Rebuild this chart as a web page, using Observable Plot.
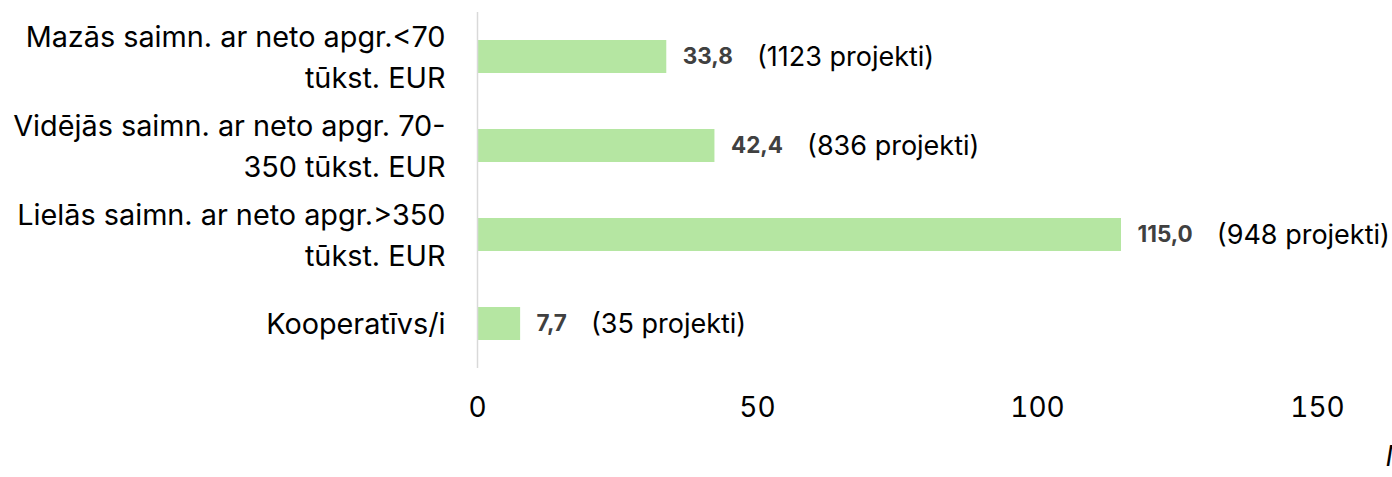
<!DOCTYPE html>
<html><head><meta charset="utf-8">
<script src="https://cdn.jsdelivr.net/npm/d3@7"></script>
<script src="https://cdn.jsdelivr.net/npm/@observablehq/plot@0.6"></script>
<style>body{margin:0;background:#fff;overflow:hidden} svg{font-family:Inter, sans-serif}</style>
</head><body><div id="chart"></div>
<script>
const categories = [
  "Mazās saimn. ar neto apgr.<70 tūkst. EUR",
  "Vidējās saimn. ar neto apgr. 70-350 tūkst. EUR",
  "Lielās saimn. ar neto apgr.>350 tūkst. EUR",
  "Kooperatīvs/i"
];
const tickLabels = [
  "Mazās saimn. ar neto apgr.<70\ntūkst. EUR",
  "Vidējās saimn. ar neto apgr. 70-\n350 tūkst. EUR",
  "Lielās saimn. ar neto apgr.>350\ntūkst. EUR",
  "Kooperatīvs/i"
];
const values = [33.8, 42.4, 115.0, 7.7];
const projects = [1123, 836, 948, 35];
const xTicks = [0, 50, 100, 150];
const axisTitle = "Milj. EUR";

const data = categories.map((c, i) => ({cat: c, value: values[i], projects: projects[i]}));
const fmt = v => d3.format(".1f")(v).replace(".", ",");

const chart = Plot.plot({
  width: 1392, height: 477,
  marginLeft: 477, marginRight: 75, marginTop: 12, marginBottom: 109,
  style: {fontFamily: "Inter, sans-serif", background: "#fff", overflow: "visible"},
  x: {domain: [0, 150]},
  y: {domain: categories, paddingInner: 0.63, paddingOuter: 0.315},
  marks: [
    Plot.barX(data, {x: "value", y: "cat", fill: "#b5e6a2"}),
    Plot.ruleX([0], {stroke: "#d9d9d9", strokeWidth: 1.5}),
    Plot.axisX({ticks: xTicks, tickSize: 0, tickPadding: 29, fontSize: 28, fill: "#000", label: null}),
    Plot.axisY({tickSize: 0, tickPadding: 32, fontSize: 28.8, fill: "#000", label: null, lineHeight: 1.44, dy: -3,
      tickFormat: d => tickLabels[categories.indexOf(d)]}),
    Plot.text(data, {
      x: "value", y: "cat", text: d => fmt(d.value), dx: 16, textAnchor: "start", fontSize: 22.5,
      render(index, scales, values, dims, context, next) {
        const g = next(index, scales, values, dims, context);
        d3.select(g).selectAll("text").each(function(_, j) {
          const d = data[index[j]];
          const t = d3.select(this);
          t.text(null);
          t.append("tspan").attr("font-weight", "bold").attr("fill", "#404040").text(fmt(d.value));
          t.append("tspan").attr("dx", 24).attr("dy", 2).attr("fill", "#000").attr("font-size", 27).text(`(${d.projects} projekti)`);
        });
        return g;
      }
    }),
    Plot.text([axisTitle], {frameAnchor: "bottom-right", dx: 68, dy: 97, textAnchor: "start",
      fontSize: 28, fontStyle: "italic", fill: "#000"})
  ]
});
document.getElementById("chart").appendChild(chart);
</script>
</body></html>
